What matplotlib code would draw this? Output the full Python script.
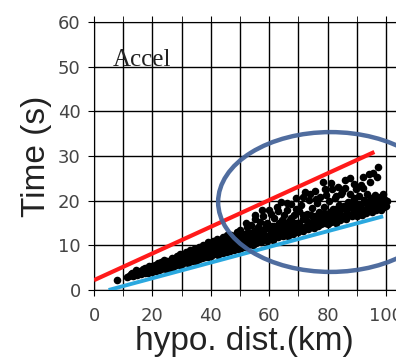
import matplotlib
matplotlib.use("Agg")
import matplotlib.pyplot as plt
from matplotlib.patches import Ellipse

# hypocentral distance (km) / travel time (s)
dist = [7.8, 11.2, 12.5, 13.4, 14.1, 14.8, 15.6,
        16.2, 16.9, 17.3, 17.8, 18.4, 18.6, 19.1, 19.7, 19.9,
        20.3, 20.8, 21.2, 21.5, 22.0, 22.3, 22.7, 23.1, 23.5, 23.9, 24.2, 24.6, 24.9,
        25.3, 25.6, 26.0, 26.4, 26.8, 27.1, 27.5, 27.9, 28.2, 28.6, 29.0, 29.3, 29.7, 29.9,
        30.3, 30.6, 31.0, 31.3, 31.7, 32.1, 32.4, 32.8, 33.2, 33.5, 33.9, 34.2, 34.6, 34.9,
        35.3, 35.6, 36.0, 36.3, 36.7, 37.0, 37.4, 37.8, 38.1, 38.5, 38.8, 39.2, 39.5, 39.9,
        40.2, 40.5, 40.9, 41.2, 41.6, 41.9, 42.3, 42.6, 43.0, 43.3, 43.7, 44.0, 44.4, 44.7,
        45.1, 45.4, 45.8, 46.1, 46.5, 46.8, 47.2, 47.5, 47.9, 48.2, 48.6, 48.9, 49.3, 49.6,
        50.0, 50.3, 50.7, 51.0, 51.4, 51.7, 52.1, 52.4, 52.8, 53.1, 53.5, 53.8, 54.2, 54.5, 54.9,
        55.2, 55.6, 55.9, 56.3, 56.6, 57.0, 57.3, 57.7, 58.0, 58.4, 58.7, 59.1, 59.4, 59.8,
        60.1, 60.5, 60.8, 61.2, 61.5, 61.9, 62.2, 62.6, 62.9, 63.3, 63.6, 64.0, 64.3, 64.7,
        65.0, 65.4, 65.7, 66.1, 66.4, 66.8, 67.1, 67.5, 67.8, 68.2, 68.5, 68.9, 69.2, 69.6,
        70.0, 70.3, 70.7, 71.0, 71.4, 71.7, 72.1, 72.4, 72.8, 73.1, 73.5, 73.8, 74.2, 74.5, 74.9,
        75.2, 75.6, 75.9, 76.3, 76.6, 77.0, 77.3, 77.7, 78.0, 78.4, 78.7, 79.1, 79.4, 79.8,
        80.1, 80.5, 80.8, 81.2, 81.5, 81.9, 82.2, 82.6, 82.9, 83.3, 83.6, 84.0, 84.3, 84.7,
        85.0, 85.4, 85.7, 86.1, 86.4, 86.8, 87.1, 87.5, 87.8, 88.2, 88.5, 88.9, 89.2, 89.6,
        90.0, 90.3, 90.7, 91.0, 91.4, 91.7, 92.1, 92.4, 92.8, 93.1, 93.5, 93.8, 94.2, 94.5,
        94.9, 95.2, 95.5, 95.9, 96.2, 96.6, 96.9, 97.3, 97.6, 98.0, 98.3, 98.7, 99.0, 99.4, 99.7, 100.1,
        # denser core of the band
        12.0, 13.0, 14.5, 15.2, 16.5, 17.5, 18.9, 19.4, 20.6, 21.8, 22.9, 23.3, 24.0, 25.0,
        25.9, 26.6, 27.3, 28.4, 28.9, 29.5,
        30.8, 31.5, 32.6, 33.0, 33.7, 34.4, 35.0, 35.8, 36.5, 37.2, 37.6, 38.3, 39.0, 39.7,
        40.6, 41.4, 42.0, 42.8, 43.5, 44.2, 44.9, 45.6, 46.3, 47.0, 47.7, 48.4, 49.0, 49.8,
        50.5, 51.2, 52.0, 52.6, 53.3, 54.0, 54.7, 55.4, 56.1, 56.9, 57.5, 58.2, 58.9, 59.6,
        60.3, 61.0, 61.7, 62.4, 63.1, 63.8, 64.5, 65.2, 65.9, 66.6, 67.3, 68.0, 68.7, 69.4,
        70.2, 70.9, 71.6, 72.3, 73.0, 73.7, 74.4, 75.0, 75.8, 76.5, 77.2, 77.9, 78.6, 79.3,
        80.0, 80.7, 81.4, 82.0, 82.8, 83.5, 84.2, 84.9, 85.6, 86.3, 87.0, 87.7, 88.4, 89.1,
        89.8, 90.5, 91.2, 91.9, 92.6, 93.3, 94.0, 94.7, 95.4, 96.1, 96.8, 97.5, 98.2, 98.9,
        99.6, 100.2,
        # upper scattered events
        52.0, 55.0, 57.5, 60.5, 63.0, 66.0, 69.0, 71.5, 74.0, 76.0, 79.0, 81.0, 83.0, 86.0,
        89.0, 92.0, 94.0, 97.0]
time = [2.2, 2.9, 3.6, 3.1, 3.9, 3.3, 4.3,
        3.5, 4.6, 3.9, 4.2, 5.0, 3.8, 4.5, 5.3, 4.0,
        4.7, 5.6, 4.2, 5.1, 6.0, 4.5, 5.4, 4.8, 6.3, 5.0, 5.8, 4.8, 6.5,
        5.3, 6.1, 5.0, 6.8, 5.7, 5.2, 6.4, 7.2, 5.5, 6.0, 7.0, 5.7, 7.6, 6.4,
        5.9, 6.9, 7.9, 6.2, 7.3, 6.1, 8.3, 6.6, 7.6, 6.4, 8.6, 7.0, 7.9, 6.6,
        8.9, 7.3, 6.9, 8.2, 9.4, 7.1, 7.8, 8.7, 7.3, 9.9, 8.1, 7.5, 9.1, 10.4,
        7.7, 8.6, 9.6, 8.0, 10.8, 9.0, 7.9, 10.1, 8.5, 11.3, 9.4, 8.2, 10.6, 9.0,
        11.8, 8.5, 9.8, 11.0, 8.8, 12.4, 9.5, 10.4, 8.9, 11.6, 9.9, 12.9, 9.2, 10.8,
        13.4, 9.5, 11.9, 10.2, 12.6, 9.7, 11.2, 14.0, 10.0, 12.2, 10.6, 14.6, 11.5, 10.1, 13.1,
        16.0, 10.5, 12.0, 14.2, 11.0, 15.3, 10.7, 12.8, 16.6, 11.4, 13.9, 11.0, 15.0, 17.9,
        11.6, 12.6, 14.4, 11.3, 16.2, 12.2, 13.4, 18.5, 11.8, 15.1, 12.7, 19.7, 14.0, 12.1,
        16.8, 12.5, 13.6, 18.0, 12.2, 15.4, 13.0, 19.3, 14.3, 12.6, 16.9, 13.3, 20.6, 15.0,
        12.9, 17.6, 13.8, 19.1, 13.2, 15.8, 22.0, 14.2, 17.0, 13.6, 20.2, 15.1, 14.0, 18.4, 16.3,
        13.9, 22.1, 15.2, 19.4, 14.4, 17.5, 20.8, 14.8, 16.1, 24.2, 18.6, 15.0, 21.3, 16.8,
        14.7, 19.9, 17.4, 15.3, 22.5, 18.2, 15.9, 20.6, 15.1, 17.0, 23.1, 19.0, 15.7, 21.4,
        22.0, 16.2, 18.3, 24.6, 16.0, 19.8, 17.1, 21.6, 25.0, 16.6, 18.9, 20.5, 17.4, 22.6,
        16.5, 19.2, 21.0, 17.6, 23.4, 16.9, 25.3, 20.1, 18.0, 17.2, 21.5, 19.4, 17.7, 24.1,
        20.5, 17.5, 26.2, 18.6, 21.2, 17.9, 19.7, 27.5, 18.3, 20.8, 17.8, 19.4, 21.4, 18.6, 20.1, 18.9,
        # denser core of the band
        3.2, 3.8, 4.4, 3.7, 4.0, 4.9, 5.4, 4.8, 5.2, 5.7, 6.2, 5.5, 6.8, 5.9,
        6.6, 7.2, 6.1, 7.6, 6.6, 8.0,
        7.3, 8.4, 7.5, 8.9, 7.2, 9.2, 8.0, 9.6, 7.7, 10.0, 8.3, 9.3, 10.7, 8.4,
        11.0, 9.3, 11.5, 9.0, 10.1, 11.9, 9.7, 12.4, 10.2, 11.4, 9.4, 12.2, 10.3, 11.7,
        10.6, 12.0, 10.5, 12.9, 11.1, 12.0, 11.0, 13.4, 11.6, 13.0, 11.7, 12.2, 14.8, 12.0,
        13.5, 12.2, 14.3, 12.6, 13.8, 12.4, 15.6, 13.3, 14.6, 13.4, 16.2, 13.5, 15.1, 13.7,
        14.9, 13.6, 16.8, 14.0, 15.4, 14.3, 16.9, 14.6, 16.6, 15.0, 16.3, 15.4, 17.2, 15.6,
        16.2, 15.8, 17.6, 16.4, 18.1, 16.0, 17.8, 16.5, 18.9, 17.0, 18.4, 16.9, 19.6, 17.6,
        19.0, 17.2, 18.8, 18.1, 19.8, 18.3, 20.0, 18.7, 19.9, 18.4, 20.4, 19.1, 20.0, 18.7,
        19.6, 19.9,
        # upper scattered events
        15.1, 16.9, 17.8, 17.0, 17.6, 19.5, 18.2, 20.8, 21.5, 20.3, 22.6, 24.0, 21.0, 22.8,
        23.8, 22.9, 26.0, 25.2]

# bounding lines
red_x = [0, 96]
red_y = [2.2, 30.9]
blue_x = [5, 99]
blue_y = [0, 16.5]

xticks = [0, 20, 40, 60, 80, 100]
yticks = [0, 10, 20, 30, 40, 50, 60]

fig = plt.figure(figsize=(3.96, 3.64), dpi=100)
ax = fig.add_axes([94 / 396, 1 - 290 / 364, 302 / 396, 268 / 364])

ax.set_xlim(0, 103.4)
ax.set_ylim(0, 60)
ax.set_xticks(xticks)
ax.set_xticks(range(10, 101, 20), minor=True)
ax.set_yticks(yticks)
ax.grid(True, which="both", color="black", linewidth=1.0)
ax.set_axisbelow(True)
for s in ax.spines.values():
    s.set_color("black")
ax.spines["right"].set_visible(False)

ax.tick_params(which="both", direction="out", length=4.5, top=True, color="black")
ax.tick_params(labelsize=13, labelcolor="#444444", pad=5)
ax.tick_params(axis="x", pad=8)

ax.scatter(dist, time, s=30, color="black", linewidths=0, zorder=3)
ax.plot(red_x, red_y, color="#ff1a1a", linewidth=3, zorder=4, solid_capstyle="butt")
ax.plot(blue_x, blue_y, color="#2aa8df", linewidth=2.8, zorder=4, solid_capstyle="butt")

ax.add_patch(Ellipse((81, 19.7), 77, 31.3, fill=False, edgecolor="#46659a",
                     linewidth=3.2, alpha=0.95, zorder=5, clip_on=False))

ax.text(6.3, 50.2, "Accel", family="Liberation Serif", fontsize=18, color="#222222")

ax.set_ylabel("Time (s)", fontsize=24, color="#222222", family="Liberation Sans", va="center")
ax.yaxis.set_label_coords(-0.19, 0.5)
ax.set_xlabel("hypo. dist.(km)", fontsize=24, color="#222222", family="Liberation Sans", va="center")
ax.xaxis.set_label_coords(0.498, -0.194)

fig.savefig("out.png", dpi=100)
